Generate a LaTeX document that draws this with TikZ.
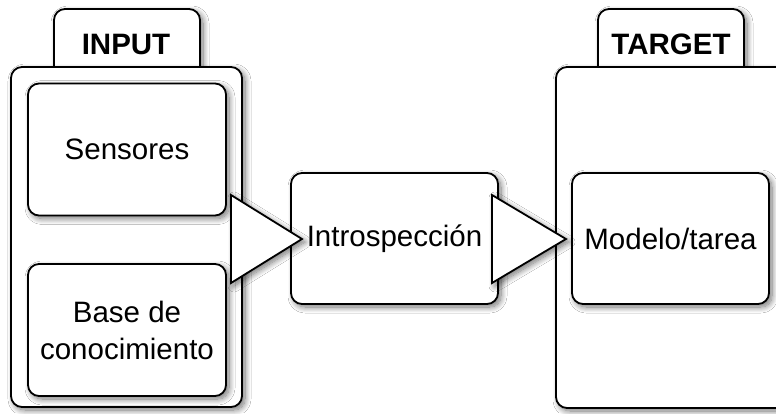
\documentclass[tikz,border=0pt]{standalone}
\usepackage{fontspec}
\setmainfont{Liberation Sans}
\usetikzlibrary{shadows.blur}
\tikzset{
  shd/.style={blur shadow={shadow xshift=3pt, shadow yshift=-3pt, shadow blur steps=12, shadow blur radius=6pt, shadow opacity=55}},
  boxstyle/.style={draw=black, line width=1.8pt, fill=white, rounded corners=11pt, shd},
  inbox/.style={boxstyle, rectangle, inner sep=0pt, align=center, font=\fontsize{29.5}{37}\selectfont},
  tabstyle/.style={boxstyle},
  tabtext/.style={font=\fontsize{29.5}{34}\selectfont\bfseries, inner sep=0pt},
  tri/.style={draw=black, line width=1.8pt, fill=white, line join=miter, shd}
}
\begin{document}
\begin{tikzpicture}[x=1pt,y=-1pt]
\useasboundingbox (0,0) rectangle (776,413);
\fill[white] (0,0) rectangle (776,413);
% INPUT group
\path[tabstyle] (54,80) -- (54,9) -- (200,9) -- (200,80);
\node[tabtext] (inlabel) at (126,44) {INPUT};
\path[boxstyle] (11,67) rectangle (242,407);
\node[inbox, minimum width=198pt, minimum height=132pt] (sens) at (127,149.5) {Sensores};
\node[inbox, minimum width=198pt, minimum height=132pt] (base) at (127,330) {Base de\\conocimiento};
% TARGET group
\path[tabstyle] (598,80) -- (598,9) -- (744,9) -- (744,80);
\node[tabtext] (tlabel) at (671,44) {TARGET};
\path[boxstyle] (556,67) rectangle (800,408);
\node[inbox, minimum width=197pt, minimum height=131pt] (model) at (670.5,238.5) {Modelo/tarea};
% middle
\node[inbox, minimum width=207pt, minimum height=131pt] (intro) at (394.5,238.5) {Introspección};
% arrows (triangles)
\coordinate (t1a) at (231,195);
\coordinate (t1b) at (231,283);
\coordinate (t2a) at (492,195);
\coordinate (t2b) at (492,283);
\path[tri] (t1a) -- (302,239) -- (t1b) -- cycle;
\path[tri] (t2a) -- (566,239) -- (t2b) -- cycle;
\end{tikzpicture}
\end{document}
